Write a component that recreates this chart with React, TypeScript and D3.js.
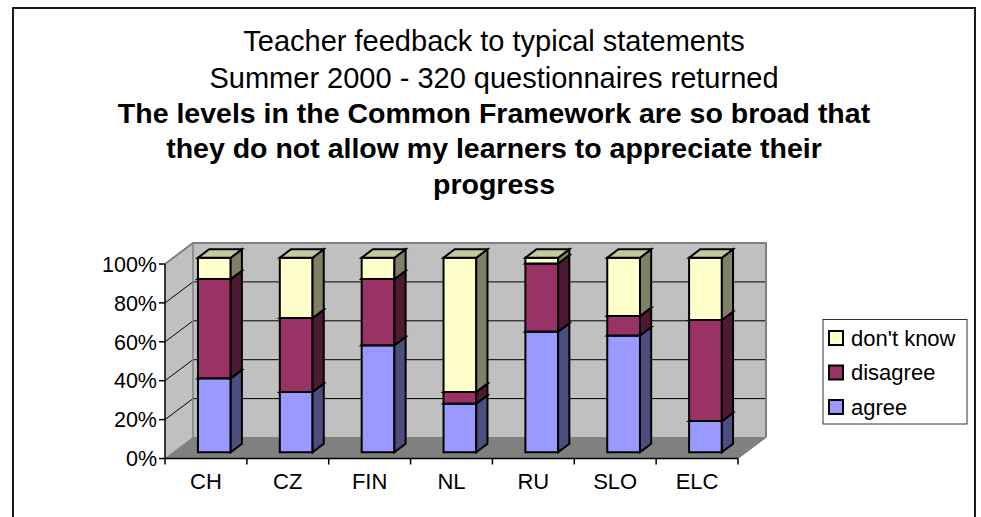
import React from 'react'
import * as d3 from 'd3'

const categories = ['CH', 'CZ', 'FIN', 'NL', 'RU', 'SLO', 'ELC']
const agree = [38, 31, 55, 25, 62, 60, 16]
const disagree = [51, 38, 34, 6, 35, 10, 52]
const dontKnow = [11, 31, 11, 69, 3, 30, 32]
const seriesNames = ['agree', 'disagree', "don't know"]
const yTicks = [0, 20, 40, 60, 80, 100]
const titleLines = [
  'Teacher feedback to typical statements',
  'Summer 2000 - 320 questionnaires returned',
]
const boldLines = [
  'The levels in the Common Framework are so broad that',
  'they do not allow my learners to appreciate their',
  'progress',
]

const colors = {
  agree: { front: '#9999FF', side: '#4D4D80', top: '#B3B3FF' },
  disagree: { front: '#993366', side: '#4D1A33', top: '#B36685' },
  "don't know": { front: '#FFFFCC', side: '#808066', top: '#C8C8A0' },
}

const W = 981
const H = 517
const left = 165
const right = 738
const bottom = 458.5
const top = 264
const DX = 28
const DY = -21

const App: React.FC = () => {
  const x = d3.scaleBand<string>().domain(categories).range([left, right])
  const y = d3.scaleLinear().domain([0, 100]).range([bottom, top])

  const rows = categories.map((c, i) => ({
    cat: c,
    agree: agree[i],
    disagree: disagree[i],
    "don't know": dontKnow[i],
  }))
  const stack = d3.stack<any>().keys(seriesNames)(rows)

  // bar is 1/2.5 of the band (gap width 150%), sits in the middle of the depth
  const bw = x.bandwidth() / 2.5
  const f0 = 0.3
  const f1 = 0.7
  const p = (px: number, py: number, f: number) => [px + f * DX, py + f * DY]
  const pts = (arr: number[][]) => arr.map((d) => d.join(',')).join(' ')

  const bars: JSX.Element[] = []
  categories.forEach((c, i) => {
    const cx = x(c)! + x.bandwidth() / 2
    const xl = cx - bw / 2
    const xr = cx + bw / 2
    stack.forEach((s) => {
      const [v0, v1] = s[i]
      const col = (colors as any)[s.key]
      const yb = y(v0)
      const yt = y(v1)
      const front = [p(xl, yb, f0), p(xr, yb, f0), p(xr, yt, f0), p(xl, yt, f0)]
      const side = [p(xr, yb, f0), p(xr, yb, f1), p(xr, yt, f1), p(xr, yt, f0)]
      const topF = [p(xl, yt, f0), p(xr, yt, f0), p(xr, yt, f1), p(xl, yt, f1)]
      bars.push(
        <g key={c + s.key}>
          <polygon points={pts(front)} fill={col.front} stroke="#000" strokeWidth={2} />
          <polygon points={pts(side)} fill={col.side} stroke="#000" strokeWidth={2} />
          <polygon points={pts(topF)} fill={col.top} stroke="#000" strokeWidth={2} />
        </g>
      )
    })
  })

  const legendItems = ["don't know", 'disagree', 'agree']

  return (
    <svg
      width={W}
      height={H}
      style={{ position: 'absolute', left: 0, top: 0, fontFamily: 'Liberation Sans, Arial, sans-serif' }}
    >
      <rect x={0} y={0} width={W} height={H} fill="#fff" />
      <rect x={13} y={8} width={962} height={530} fill="#fff" stroke="#1a1a1a" strokeWidth={2} />

      {titleLines.map((t, i) => (
        <text key={t} x={494} y={51 + i * 36.5} textAnchor="middle" fontSize={29} fill="#000">
          {t}
        </text>
      ))}
      {boldLines.map((t, i) => (
        <text key={t} x={494} y={122.5 + i * 35.5} textAnchor="middle" fontSize={28.5} fontWeight="bold" fill="#000">
          {t}
        </text>
      ))}

      {/* walls */}
      <polygon
        points={pts([[left + DX, top + DY], [right + DX, top + DY], [right + DX, bottom + DY], [left + DX, bottom + DY]])}
        fill="#C0C0C0"
      />
      <polygon
        points={pts([[left, bottom], [left, top], [left + DX, top + DY], [left + DX, bottom + DY]])}
        fill="#C0C0C0"
      />
      {yTicks.slice(1).map((t) => (
        <g key={'g' + t}>
          <line x1={left} y1={y(t)} x2={left + DX} y2={y(t) + DY} stroke="#000" strokeWidth={1} />
          <line x1={left + DX} y1={y(t) + DY} x2={right + DX} y2={y(t) + DY} stroke="#000" strokeWidth={1} />
        </g>
      ))}
      <polyline
        points={pts([[left, top], [left + DX, top + DY], [right + DX, top + DY], [right + DX, bottom + DY]])}
        fill="none"
        stroke="#808080"
        strokeWidth={2}
      />
      <line x1={left + DX} y1={top + DY} x2={left + DX} y2={bottom + DY} stroke="#808080" strokeWidth={1.5} />
      <polygon
        points={pts([[left, bottom], [right, bottom], [right + DX, bottom + DY], [left + DX, bottom + DY]])}
        fill="#808080"
        stroke="#808080"
        strokeWidth={1}
      />

      {bars}

      {/* axes */}
      <line x1={left} y1={top} x2={left} y2={bottom} stroke="#000" strokeWidth={1.5} />
      {yTicks.map((t) => (
        <g key={'y' + t}>
          <line x1={left - 6} y1={y(t)} x2={left} y2={y(t)} stroke="#000" strokeWidth={1.5} />
          <text x={157} y={y(t)} dy="0.36em" textAnchor="end" fontSize={21.5} fill="#000">
            {t + '%'}
          </text>
        </g>
      ))}
      <line x1={left} y1={bottom} x2={right} y2={bottom} stroke="#000" strokeWidth={1.5} />
      {categories.map((c, i) => (
        <g key={'x' + c}>
          <line x1={x(c)! + x.bandwidth()} y1={bottom} x2={x(c)! + x.bandwidth()} y2={bottom + 6} stroke="#000" strokeWidth={1.5} />
          {i === 0 && <line x1={x(c)!} y1={bottom} x2={x(c)!} y2={bottom + 6} stroke="#000" strokeWidth={1.5} />}
          <text x={x(c)! + x.bandwidth() / 2} y={489} textAnchor="middle" fontSize={22} fill="#000">
            {c}
          </text>
        </g>
      ))}

      {/* legend */}
      <rect x={823} y={319.5} width={144} height={104.5} fill="#fff" stroke="#333" strokeWidth={1} />
      {legendItems.map((k, i) => {
        const cy = 338 + i * 34.5
        return (
          <g key={'l' + k}>
            <rect x={829} y={cy - 7} width={14} height={14} fill={(colors as any)[k].front} stroke="#000" strokeWidth={2} />
            <text x={851} y={cy} dy="0.36em" fontSize={22} fill="#000">
              {k}
            </text>
          </g>
        )
      })}
    </svg>
  )
}

export default App
